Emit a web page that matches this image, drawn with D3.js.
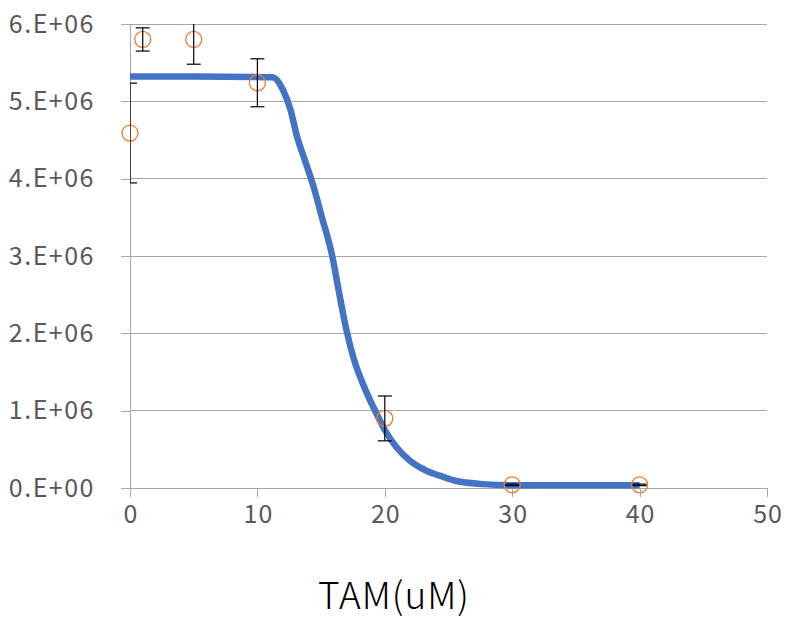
<!DOCTYPE html>
<html>
<head>
<meta charset="utf-8">
<script src="https://cdn.jsdelivr.net/npm/d3@7"></script>
<style>
  html, body { margin: 0; padding: 0; background: #fff; }
  svg { display: block; }
  text { font-family: "Noto Sans CJK JP", "Noto Sans", sans-serif; }
</style>
</head>
<body>
<svg id="chart" width="786" height="623"></svg>
<script>
// Measured cell counts (mean and error) at each TAM concentration
const doses  = [0, 1, 5, 10, 20, 30, 40];
const counts = [4.59e6, 5.80e6, 5.80e6, 5.24e6, 0.90e6, 0.04e6, 0.04e6];
const errors = [0.645e6, 0.15e6, 0.32e6, 0.31e6, 0.29e6, 0.01e6, 0.01e6];

// Fitted dose-response curve
const fitX = [0, 5, 11.2, 12.0, 12.6, 13.1, 13.7, 14.4, 15.05, 15.9, 16.35, 16.95, 17.55, 18.2, 18.8, 19.3, 20.0, 20.9, 22.0, 23.3, 24.3, 25.6, 27.7, 30, 35, 40];
const fitY = [5.32e6, 5.32e6, 5.31e6, 5.15e6, 4.89e6, 4.55e6, 4.25e6, 3.90e6, 3.51e6, 2.98e6, 2.58e6, 2.07e6, 1.68e6, 1.38e6, 1.15e6, 0.98e6, 0.75e6, 0.53e6, 0.35e6, 0.22e6, 0.16e6, 0.09e6, 0.05e6, 0.035e6, 0.034e6, 0.034e6];

const xTicks = [0, 10, 20, 30, 40, 50];
const yTicks = [0, 1e6, 2e6, 3e6, 4e6, 5e6, 6e6];
const yTickLabels = ["0.E+00", "1.E+06", "2.E+06", "3.E+06", "4.E+06", "5.E+06", "6.E+06"];
const xTitle = "TAM(uM)";

const svg = d3.select("#chart");
const plot = { left: 130, right: 767, top: 24, bottom: 488 };

const x = d3.scaleLinear().domain([0, 50]).range([plot.left, plot.right]);
const y = d3.scaleLinear().domain([0, 6e6]).range([plot.bottom, plot.top]);

// Horizontal gridlines
svg.append("g")
  .selectAll("line")
  .data(yTicks.slice(1))
  .join("line")
  .attr("x1", plot.left).attr("x2", plot.right)
  .attr("y1", d => y(d)).attr("y2", d => y(d))
  .attr("stroke", "#a6a6a6").attr("stroke-width", 1)
  .attr("shape-rendering", "crispEdges");

// Y axis
const yAxis = svg.append("g")
  .attr("transform", `translate(${plot.left},0)`)
  .call(d3.axisLeft(y).tickValues(yTicks).tickSize(9).tickPadding(26)
    .tickFormat((d, i) => yTickLabels[i]));
yAxis.select(".domain").attr("d", `M0,${plot.bottom}V${plot.top}`);
yAxis.selectAll("line, path").attr("stroke", "#a6a6a6").attr("shape-rendering", "crispEdges");
yAxis.selectAll("text").style("font-size", "25px").style("letter-spacing", "1.5px").style("fill", "#595959");

// X axis
const xAxis = svg.append("g")
  .attr("transform", `translate(0,${plot.bottom})`)
  .call(d3.axisBottom(x).tickValues(xTicks).tickSize(9).tickPadding(8));
xAxis.select(".domain").attr("d", `M${plot.left},0H${plot.right}`);
xAxis.selectAll("line, path").attr("stroke", "#a6a6a6").attr("shape-rendering", "crispEdges");
xAxis.selectAll("text").style("font-size", "25px").style("letter-spacing", "1px").attr("dx", "0.5px").style("fill", "#595959");

// Fitted curve
const fit = fitX.map((d, i) => [d, fitY[i]]);
svg.append("path")
  .datum(fit)
  .attr("fill", "none")
  .attr("stroke", "#4472c4")
  .attr("stroke-width", 6.5)
  .attr("stroke-linejoin", "round")
  .attr("d", d3.line().x(d => x(d[0])).y(d => y(d[1])).curve(d3.curveMonotoneX));

// Data markers
svg.append("g")
  .selectAll("circle")
  .data(doses)
  .join("circle")
  .attr("cx", d => x(d))
  .attr("cy", (d, i) => y(counts[i]))
  .attr("r", 8)
  .attr("fill", "none")
  .attr("stroke", "#ed7d31")
  .attr("stroke-width", 1.3);

// Error bars, clipped to the plot area
svg.append("clipPath").attr("id", "plotClip")
  .append("rect").attr("x", plot.left).attr("y", plot.top)
  .attr("width", plot.right - plot.left).attr("height", plot.bottom - plot.top);

const eb = svg.append("g").attr("clip-path", "url(#plotClip)")
  .attr("stroke", "#000").attr("stroke-width", 1.2);
doses.forEach((d, i) => {
  const cx = x(d), hi = y(counts[i] + errors[i]), lo = y(counts[i] - errors[i]);
  eb.append("line").attr("x1", cx).attr("x2", cx).attr("y1", hi).attr("y2", lo);
  eb.append("line").attr("x1", cx - 7).attr("x2", cx + 7).attr("y1", hi).attr("y2", hi);
  eb.append("line").attr("x1", cx - 7).attr("x2", cx + 7).attr("y1", lo).attr("y2", lo);
});

// Axis title
svg.append("text")
  .attr("x", 394).attr("y", 609)
  .attr("text-anchor", "middle")
  .style("font-size", "37px")
  .style("font-weight", "300")
  .style("letter-spacing", "1px")
  .style("fill", "#000")
  .text(xTitle);
</script>
</body>
</html>
